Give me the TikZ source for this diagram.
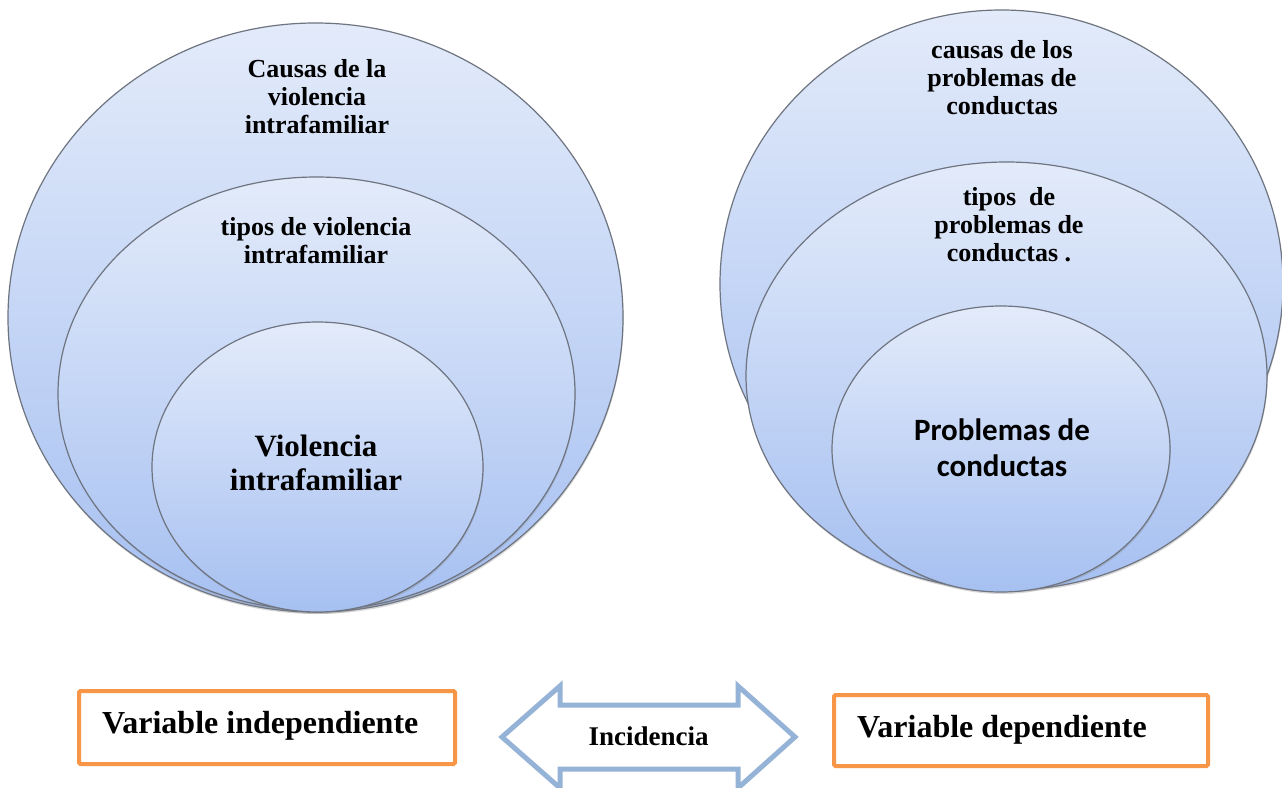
\documentclass[tikz,border=0pt]{standalone}
\usepackage{fontspec}
\setmainfont{Liberation Serif}
\newfontfamily\calibfont{Carlito}
\usetikzlibrary{shapes.geometric,shadows}
\definecolor{ovtop}{HTML}{E3EBFA}
\definecolor{ovbot}{HTML}{A6C0F1}
\definecolor{ovline}{HTML}{6E7480}
\definecolor{boxorange}{HTML}{F79646}
\definecolor{arrowblue}{HTML}{95B3D7}
\begin{document}
\begin{tikzpicture}[x=1pt,y=-1pt,
  oval/.style={ellipse, draw=ovline, line width=1.2pt, top color=ovtop, bottom color=ovbot,
    inner sep=0pt, outer sep=0pt,
    drop shadow={shadow xshift=0.6pt, shadow yshift=-2pt, opacity=0.3}},
  lbl/.style={font=\bfseries\fontsize{26}{28}\selectfont, align=center, inner sep=0pt},
  bigl/.style={font=\bfseries\fontsize{31}{34}\selectfont, align=center, inner sep=0pt},
  calibl/.style={font=\calibfont\bfseries\fontsize{31}{36}\selectfont, align=center, inner sep=0pt},
  varbox/.style={draw=boxorange, line width=4pt, rounded corners=1.5pt, fill=white, inner sep=0pt, outer sep=0pt},
  vartext/.style={font=\bfseries\fontsize{32}{34}\selectfont, inner sep=0pt},
  inctext/.style={font=\bfseries\fontsize{27}{30}\selectfont, inner sep=0pt}
]
\useasboundingbox (0,0) rectangle (1282,787);
\fill[white] (0,0) rectangle (1282,787);

% left group
\node[oval, minimum width=615pt, minimum height=589pt] (L1) at (315.5,317.5) {};
\node[oval, minimum width=517pt, minimum height=433pt] (L2) at (316.5,393.5) {};
\node[oval, minimum width=331pt, minimum height=290pt] (L3) at (317.5,467) {};
\node[lbl] (t1) at (317,97) {Causas de la\\violencia\\intrafamiliar};
\node[lbl] (t2) at (316,241) {tipos de violencia\\intrafamiliar};
\node[bigl] (t3) at (316,463) {Violencia\\intrafamiliar};

% right group
\node[oval, minimum width=563pt, minimum height=548pt] (R1) at (1001.5,284) {};
\node[oval, minimum width=521pt, minimum height=428pt] (R2) at (1006.5,376) {};
\node[oval, minimum width=338pt, minimum height=286pt] (R3) at (1001,449) {};
\node[lbl] (t4) at (1002,78) {causas de los\\problemas de\\conductas};
\node[lbl] (t5) at (1009,225) {tipos\ \ de\\problemas de\\conductas .};
\node[calibl] (t6) at (1002,448) {Problemas de\\conductas};

% bottom boxes
\node[varbox, minimum width=376pt, minimum height=73pt] (bl) at (267,727.5) {};
\node[vartext, anchor=base west] (blt) at (102,733) {Variable independiente};
\node[varbox, minimum width=374pt, minimum height=71pt] (br) at (1021,730.5) {};
\node[vartext, anchor=base west] (brt) at (857,737) {Variable dependiente};

% double arrow
\draw[arrowblue, line width=5pt, line join=miter, fill=white]
  (502,737) -- (560,686) -- (560,705) -- (738,705) -- (738,686) -- (795,737)
  -- (738,788) -- (738,769) -- (560,769) -- (560,788) -- cycle;
\node[inctext, anchor=base] (inc) at (648.5,745) {Incidencia};
\end{tikzpicture}
\end{document}
